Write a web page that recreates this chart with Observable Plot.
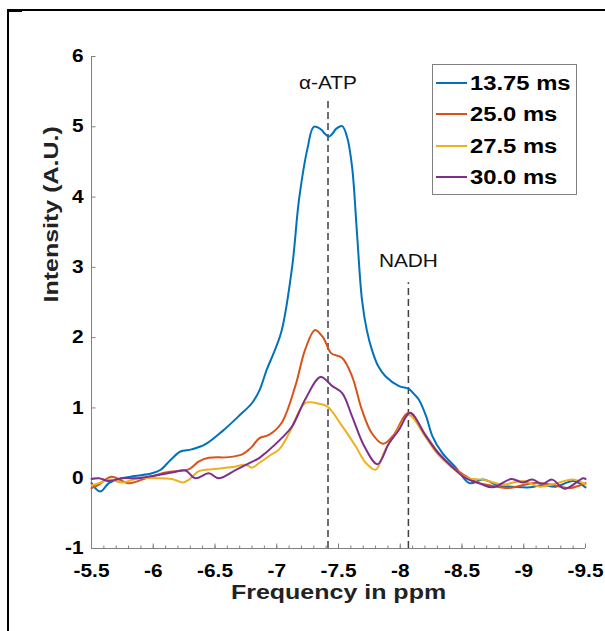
<!DOCTYPE html>
<html>
<head>
<meta charset="utf-8">
<script src="https://cdn.jsdelivr.net/npm/d3@7"></script>
<script src="https://cdn.jsdelivr.net/npm/@observablehq/plot@0.6"></script>
<style>
  body { margin: 0; background: #fff; }
  #wrap { position: relative; width: 605px; height: 631px; overflow: hidden; background: #fff;
          font-family: "Liberation Sans", Arial, Helvetica, sans-serif; }
  #frame { position: absolute; left: 7px; top: 9px; width: 700px; height: 700px;
           border-left: 2px solid #000; border-top: 2px solid #000; }
  #notch { position: absolute; left: 7px; top: 9px; width: 15px; height: 3px; background: #000; }
  #chart { position: absolute; left: 0; top: 0; }
  #legend { position: absolute; left: 432px; top: 64px; width: 143px; height: 129px;
            border: 1px solid #808080; background: #fff; }
  .row { position: absolute; left: 0; height: 26px; width: 143px; }
  .swatch { position: absolute; left: 3px; top: 12px; width: 31px; height: 2px; }
  .lab { position: absolute; left: 37px; top: 0; line-height: 26px; font-size: 20px; font-weight: bold;
         color: #000; white-space: nowrap; transform: scaleX(1.19); transform-origin: 0 50%; }
</style>
</head>
<body>
<div id="wrap">
  <div id="frame"></div>
  <div id="notch"></div>
  <div id="chart"></div>
  <div id="legend"></div>
</div>
<script>
// ---- data ----
const seriesNames = ["13.75 ms", "25.0 ms", "27.5 ms", "30.0 ms"];
const seriesColors = ["#0072BD", "#D95319", "#EDB120", "#7E2F8E"];

const ppm1375 = [-5.5,-5.57,-5.64,-5.72,-5.85,-5.99,-6.06,-6.14,-6.22,-6.31,-6.42,-6.56,-6.69,-6.8,-6.86,-6.92,-6.98,-7.04,-7.125,-7.18,-7.25,-7.3,-7.36,-7.39,-7.42,-7.45,-7.48,-7.53,-7.57,-7.61,-7.65,-7.69,-7.73,-7.77,-7.82,-7.88,-7.99,-8.07,-8.11,-8.15,-8.21,-8.26,-8.34,-8.45,-8.56,-8.67,-8.8,-8.9,-9.05,-9.15,-9.26,-9.4,-9.5];
const int1375 = [-0.07,-0.19,-0.07,-0.01,0.03,0.07,0.12,0.26,0.38,0.41,0.48,0.67,0.88,1.07,1.25,1.55,1.8,2.1,3.01,3.96,4.7,5.0,4.96,4.9,4.86,4.9,4.97,5.01,4.85,4.43,3.48,2.54,2.1,1.83,1.6,1.45,1.31,1.27,1.2,1.12,0.88,0.6,0.36,0.15,-0.07,-0.02,-0.11,-0.12,-0.13,-0.1,-0.12,-0.04,-0.13];

const ppm250 = [-5.5,-5.56,-5.66,-5.8,-5.94,-6.1,-6.29,-6.37,-6.45,-6.61,-6.72,-6.77,-6.8,-6.86,-6.94,-7.04,-7.15,-7.23,-7.31,-7.38,-7.44,-7.53,-7.61,-7.69,-7.77,-7.86,-7.94,-8.07,-8.21,-8.31,-8.42,-8.53,-8.64,-8.72,-8.88,-9.07,-9.22,-9.37,-9.5];
const int250 = [-0.14,-0.09,0.02,-0.07,0.0,0.08,0.13,0.24,0.29,0.3,0.34,0.4,0.45,0.57,0.62,0.79,1.31,1.83,2.11,1.99,1.78,1.71,1.45,0.97,0.64,0.49,0.6,0.93,0.6,0.36,0.17,0.03,-0.07,-0.1,-0.14,-0.07,-0.09,-0.14,-0.07];

const ppm275 = [-5.5,-5.56,-5.64,-5.75,-5.88,-6.02,-6.15,-6.24,-6.29,-6.37,-6.5,-6.64,-6.75,-6.8,-6.86,-6.95,-7.02,-7.1,-7.23,-7.34,-7.41,-7.53,-7.64,-7.72,-7.8,-7.88,-7.98,-8.07,-8.2,-8.3,-8.42,-8.55,-8.67,-8.83,-8.99,-9.13,-9.27,-9.4,-9.5];
const int275 = [-0.1,-0.07,-0.02,-0.06,0.0,0.0,-0.01,-0.06,-0.02,0.1,0.13,0.16,0.19,0.15,0.22,0.33,0.41,0.64,1.07,1.06,1.02,0.74,0.45,0.22,0.12,0.41,0.68,0.9,0.6,0.35,0.15,0.0,-0.02,-0.09,-0.04,-0.12,-0.07,-0.02,-0.09];

const ppm300 = [-5.5,-5.56,-5.64,-5.75,-5.88,-6.02,-6.15,-6.26,-6.34,-6.45,-6.53,-6.67,-6.75,-6.86,-6.91,-7.04,-7.125,-7.23,-7.355,-7.45,-7.53,-7.61,-7.71,-7.815,-7.91,-7.99,-8.08,-8.2,-8.3,-8.42,-8.53,-8.65,-8.75,-8.9,-8.99,-9.07,-9.15,-9.23,-9.33,-9.48,-9.5];
const int300 = [-0.01,0.0,-0.04,0.0,0.0,0.04,0.08,0.11,0.0,0.07,0.0,0.12,0.19,0.29,0.36,0.57,0.74,1.12,1.44,1.31,1.21,0.88,0.45,0.2,0.5,0.69,0.93,0.62,0.37,0.16,0.0,-0.08,-0.13,-0.01,-0.06,-0.02,-0.08,-0.02,-0.15,0.0,-0.01];

const peakLabels = ["α-ATP", "NADH"];
const peakPpm = [-7.415, -8.066];
const peakLineTop = [5.38, 2.78];
const peakLabelY = [5.62, 3.08];

const xTicks = [-5.5, -6, -6.5, -7, -7.5, -8, -8.5, -9, -9.5];
const xMinorTicks = d3.range(55, 96).map(d => -d / 10);
const yTicks = [-1, 0, 1, 2, 3, 4, 5, 6];
const xLabel = "Frequency in ppm";
const yLabel = "Intensity (A.U.)";

// ---- build table ----
const ppmArrays = [ppm1375, ppm250, ppm275, ppm300];
const intArrays = [int1375, int250, int275, int300];
const rows = seriesNames.flatMap((name, s) =>
  ppmArrays[s].map((p, i) => ({ name, ppm: p, intensity: intArrays[s][i] })));
const peaks = peakLabels.map((label, i) => ({ label, ppm: peakPpm[i], top: peakLineTop[i], ly: peakLabelY[i] }));

const axisGray = "#808080";
const yMin = -1, xStart = -5.5;

const plot = Plot.plot({
  width: 605,
  height: 631,
  marginLeft: 91,
  marginRight: 20,
  marginTop: 56,
  marginBottom: 83,
  style: { fontFamily: '"Liberation Sans", Arial, Helvetica, sans-serif', color: "#000", background: "transparent" },
  x: { domain: [-5.5, -9.5] },
  y: { domain: [-1, 6] },
  color: { domain: seriesNames, range: seriesColors },
  marks: [
    // axis lines
    Plot.ruleX([xStart], { stroke: axisGray, strokeWidth: 1 }),
    Plot.ruleY([yMin], { stroke: axisGray, strokeWidth: 1 }),
    // inward ticks
    Plot.ruleX(xMinorTicks, { x: d => d, y1: () => yMin, y2: () => yMin, insetBottom: 2.5, stroke: axisGray }),
    Plot.ruleX(xTicks, { x: d => d, y1: () => yMin, y2: () => yMin, insetBottom: 4.5, stroke: axisGray }),
    Plot.ruleY(yTicks, { y: d => d, x1: () => xStart, x2: () => xStart, insetRight: -4.5, stroke: axisGray }),
    // tick labels
    Plot.axisX(xTicks, { tickSize: 0, tickPadding: 16, tickFormat: d => String(d), fontSize: 17.5, fontWeight: "bold", label: null }),
    Plot.axisY(yTicks, { tickSize: 0, tickPadding: 8, tickFormat: d => String(d), fontSize: 17.5, fontWeight: "bold", label: null }),
    // axis titles
    Plot.text([xLabel], { frameAnchor: "bottom", dy: 50, text: d => d, fontSize: 21, fontWeight: "bold", fill: "#222" }),
    Plot.text([yLabel], { frameAnchor: "left", dx: -40, rotate: -90, text: d => d, fontSize: 21, fontWeight: "bold", fill: "#222" }),
    // peak markers
    Plot.ruleX(peaks, { x: "ppm", y1: () => yMin, y2: "top", stroke: "#404040", strokeWidth: 1.5, strokeDasharray: "7,4" }),
    Plot.text(peaks, { x: "ppm", y: "ly", text: "label", fontSize: 17.5, fill: "#111" }),
    // spectra
    Plot.line(rows, { x: "ppm", y: "intensity", z: "name", stroke: "name", strokeWidth: 2, curve: "catmull-rom" })
  ]
});

document.getElementById("chart").appendChild(plot);

// widen glyphs horizontally like the reference typeface
plot.querySelectorAll("text").forEach(t => {
  const w = t.getComputedTextLength();
  if (w > 0) {
    t.setAttribute("textLength", (w * 1.19).toFixed(1));
    t.setAttribute("lengthAdjust", "spacingAndGlyphs");
  }
});

// legend
const legend = document.getElementById("legend");
const rowCenters = [17.7, 49, 80.5, 112];
seriesNames.forEach((name, i) => {
  const row = document.createElement("div");
  row.className = "row";
  row.style.top = (rowCenters[i] - 13) + "px";
  const sw = document.createElement("div");
  sw.className = "swatch";
  sw.style.background = seriesColors[i];
  const lab = document.createElement("div");
  lab.className = "lab";
  lab.textContent = name;
  row.appendChild(sw);
  row.appendChild(lab);
  legend.appendChild(row);
});
</script>
</body>
</html>
